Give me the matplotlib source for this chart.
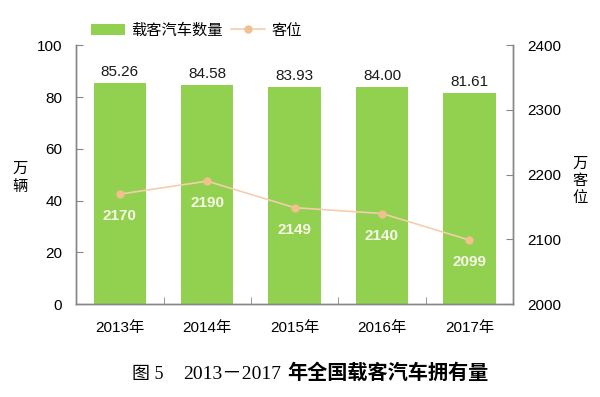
import numpy as np
import matplotlib.pyplot as plt

plt.rcParams['font.family'] = ['Liberation Sans', 'Noto Sans CJK SC']

years = ['2013年', '2014年', '2015年', '2016年', '2017年']
vehicles = [85.26, 84.58, 83.93, 84.00, 81.61]   # 万辆
seats = [2170, 2190, 2149, 2140, 2099]           # 万客位

green = '#92D050'
peach = '#F5CDB0'
grey = '#868686'

fig = plt.figure(figsize=(6.0, 3.97), dpi=100)
ax = fig.add_axes([0.127, 0.234, 0.728, 0.652])
ax2 = ax.twinx()

x = np.arange(len(years))
bars = ax.bar(x, vehicles, width=0.6, color=green, label='载客汽车数量', zorder=1)
for xi, v in zip(x, vehicles):
    ax.annotate('%.2f' % v, (xi, v), xytext=(0, 3), textcoords='offset points',
                ha='center', va='bottom', fontsize=11, color='#1a1a1a')

line, = ax2.plot(x, seats, color=peach, lw=1.2, marker='o', ms=5,
                 markerfacecolor='#F2C08C', markeredgecolor='#F2C08C', label='客位')
for xi, s in zip(x, seats):
    ax2.annotate(str(s), (xi, s), xytext=(0, -16), textcoords='offset points',
                 ha='center', va='center', fontsize=11, fontweight='bold',
                 color='#F7F9E6')

ax.set_xlim(-0.5, 4.5)
ax.set_ylim(0, 100)
ax.set_yticks([0, 20, 40, 60, 80, 100])
ax2.set_ylim(2000, 2400)
ax2.set_yticks([2000, 2100, 2200, 2300, 2400])

ax.set_xticks(x)
ax.set_xticklabels(years)
ax.set_xticks(np.arange(-0.5, 5, 1), minor=True)
ax.tick_params(axis='x', which='major', length=0, pad=12, labelsize=11)
ax.tick_params(axis='x', which='minor', direction='in', length=5, color=grey)
ax.tick_params(axis='y', direction='in', length=5, color=grey, labelsize=11, pad=10)
ax2.tick_params(axis='y', direction='in', length=5, color=grey, labelsize=11, pad=10)

for a in (ax, ax2):
    a.spines['top'].set_visible(False)
    for s in ('left', 'right', 'bottom'):
        a.spines[s].set_color(grey)
        a.spines[s].set_linewidth(1.0)

fig.text(0.033, 0.552, '万\n辆', fontsize=11, ha='center', va='center', linespacing=1.3)
fig.text(0.967, 0.544, '万\n客\n位', fontsize=11, ha='center', va='center', linespacing=1.3)

ax.legend(handles=[bars, line], loc='lower left', bbox_to_anchor=(0.02, 1.005),
          ncol=2, frameon=False, fontsize=11, handlelength=2.2, handleheight=0.8,
          columnspacing=0.6, handletextpad=0.4, borderaxespad=0)

# caption, pieces chained one after another
serif = ['Liberation Serif', 'Noto Sans CJK SC']
t1 = fig.text(0.22, 0.045, '图 5', fontsize=13, family=serif, ha='left', va='baseline')
t2 = fig.text(0, 0, '2013－2017', fontsize=14, family=serif, va='baseline')
t3 = fig.text(0, 0, '年全国载客汽车拥有量', fontsize=14.5, fontweight='bold',
              family=serif, va='baseline')
fig.canvas.draw()
r = fig.canvas.get_renderer()
b1 = t1.get_window_extent(r)
t2.set_position(((b1.x1 + 20) / fig.bbox.width, 0.045))
b2 = t2.get_window_extent(r)
t3.set_position(((b2.x1 + 6) / fig.bbox.width, 0.045))

fig.savefig('out.png', dpi=100)
